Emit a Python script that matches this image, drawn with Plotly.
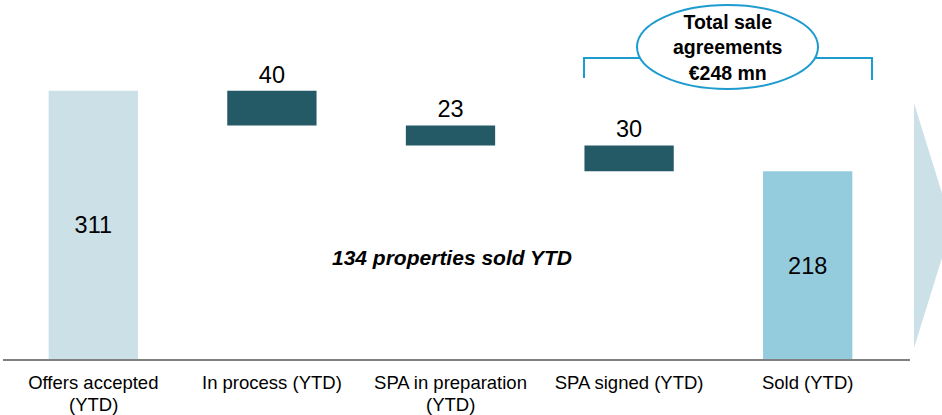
import plotly.graph_objects as go

categories = ["Offers accepted<br>(YTD)", "In process (YTD)", "SPA in preparation<br>(YTD)",
              "SPA signed (YTD)", "Sold (YTD)"]
values = [311, 40, 23, 30, 218]
kinds = ["absolute", "relative", "relative", "relative", "total"]
colors = ["#CCE0E8", "#235A66", "#235A66", "#235A66", "#94CCDD"]
total_label = "Total sale<br>agreements<br>€248 mn"
mid_label = "<b><i>134 properties sold YTD</i></b>"

# compute bases (waterfall running total going down)
bases = []
running = 0
for v, k in zip(values, kinds):
    if k == "absolute":
        bases.append(0)
        running = v
    elif k == "relative":
        bases.append(running - v)
        running -= v
    else:
        bases.append(0)

W, H = 942, 415
ML, MR, MT, MB = 4, 45, 0, 55
PW, PH = W - ML - MR, H - MT - MB
FONT = "Liberation Sans, Arial"

def px(x):
    return (x - ML) / PW

def py(y):
    return (H - MB - y) / PH

textpos = ["inside" if k != "relative" else "outside" for k in kinds]
first_lines = [c.split("<br>")[0] for c in categories]
second_lines = [c.split("<br>")[1] if "<br>" in c else "" for c in categories]

fig = go.Figure()
fig.add_trace(go.Bar(
    x=list(range(len(categories))), y=values, base=bases,
    marker=dict(color=colors, line=dict(width=0)),
    text=[str(v) for v in values], textposition=textpos,
    insidetextanchor="middle",
    textfont=dict(family=FONT, size=23.5, color="#000000"),
    insidetextfont=dict(family=FONT, size=23.5, color="#000000"),
    outsidetextfont=dict(family=FONT, size=23.5, color="#000000"),
    cliponaxis=False, hoverinfo="skip",
))

shapes = [
    dict(type="line", xref="paper", yref="paper", x0=px(3), x1=px(910), y0=py(360), y1=py(360),
         line=dict(color="#808080", width=2)),
    dict(type="path", xref="paper", yref="paper",
         path=f"M {px(914)} {py(103)} L {px(952)} {py(225.5)} L {px(914)} {py(348)} Z",
         fillcolor="#CCE0E8", line=dict(width=0)),
    dict(type="path", xref="paper", yref="paper",
         path=f"M {px(584)} {py(78)} L {px(584)} {py(58)} L {px(872)} {py(58)} L {px(872)} {py(80)}",
         line=dict(color="#1E9BCF", width=2)),
    dict(type="circle", xref="paper", yref="paper",
         x0=px(637), x1=px(818), y0=py(89), y1=py(5),
         fillcolor="#FFFFFF", line=dict(color="#1E9BCF", width=2)),
]

annotations = [
    dict(xref="paper", yref="paper", x=px(727.5), y=py(47.5), text=f"<b>{total_label}</b>",
         showarrow=False, font=dict(family=FONT, size=19.5, color="#000000"),
         xanchor="center", yanchor="middle"),
    dict(xref="paper", yref="paper", x=px(452), y=py(257), text=mid_label,
         showarrow=False, font=dict(family=FONT, size=21, color="#000000"),
         xanchor="center", yanchor="middle"),
]
for i, s in enumerate(second_lines):
    if s:
        annotations.append(dict(xref="x", yref="paper", x=i, y=py(404), text=s, showarrow=False,
                                font=dict(family=FONT, size=18.5, color="#000000"),
                                xanchor="center", yanchor="middle"))

fig.update_layout(
    width=W, height=H, margin=dict(l=ML, r=MR, t=MT, b=MB),
    paper_bgcolor="#FFFFFF", plot_bgcolor="#FFFFFF",
    bargap=0.5, showlegend=False,
    shapes=shapes, annotations=annotations,
    xaxis=dict(tickmode="array", tickvals=list(range(len(categories))), ticktext=first_lines,
               range=[-0.5, 4.5], showgrid=False, zeroline=False, showline=False, ticks="",
               ticklabelstandoff=9,
               tickfont=dict(family=FONT, size=18.5, color="#000000"),
               fixedrange=True),
    yaxis=dict(range=[0, PH / 0.8654], visible=False, showgrid=False, zeroline=False, fixedrange=True),
)

fig.write_html("out.html", config={"displayModeBar": False},
               post_script="document.body.style.margin='0';document.body.style.overflow='hidden';")
